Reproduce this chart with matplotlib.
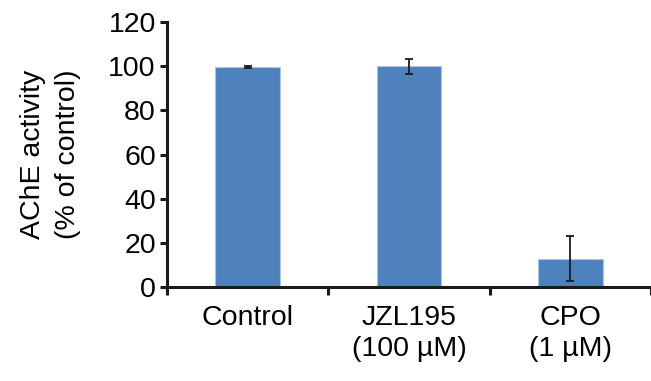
import numpy as np
import matplotlib.pyplot as plt
from matplotlib.ticker import FixedLocator

# Data
groups = ['Control', 'JZL195\n(100 µM)', 'CPO\n(1 µM)']
activity = [99.7, 100.0, 12.9]
errors = [0.3, 3.5, 10.0]

plt.rcParams['font.family'] = ['Liberation Sans', 'DejaVu Sans']
fs = 20.5

fig = plt.figure(figsize=(6.51, 3.81), dpi=100)
ax = fig.add_axes([0.2565, 0.2467, 0.7435, 0.6953])

x = np.arange(len(groups))
ax.bar(x, activity, width=0.4, color='#4f81bd', edgecolor='#a9c4e6', linewidth=0.8, zorder=2)
ax.errorbar(x, activity, yerr=errors, fmt='none', ecolor='#1a1a1a',
            elinewidth=1.3, capsize=3, capthick=1.3, zorder=3)

ax.set_xlim(-0.5, 2.5)
ax.set_ylim(0, 120)
ax.set_yticks(range(0, 121, 20))
ax.set_xticks(x)
ax.set_xticklabels(groups, fontsize=fs, linespacing=1.25)
ax.xaxis.set_minor_locator(FixedLocator([-0.5, 0.5, 1.5, 2.5]))
ax.tick_params(axis='x', which='major', length=0, pad=13)
ax.tick_params(axis='x', which='minor', length=6, width=2.2, direction='out', color='#1a1a1a')
ax.tick_params(axis='y', labelsize=fs, length=5, width=2.2, direction='out', color='#1a1a1a', pad=3)

for side in ['top', 'right']:
    ax.spines[side].set_visible(False)
for side in ['left', 'bottom']:
    ax.spines[side].set_linewidth(2.2)
    ax.spines[side].set_color('#1a1a1a')

ax.set_ylabel('AChE activity\n(% of control)', fontsize=fs, labelpad=20, linespacing=1.45)

fig.savefig('out.png', dpi=100)
